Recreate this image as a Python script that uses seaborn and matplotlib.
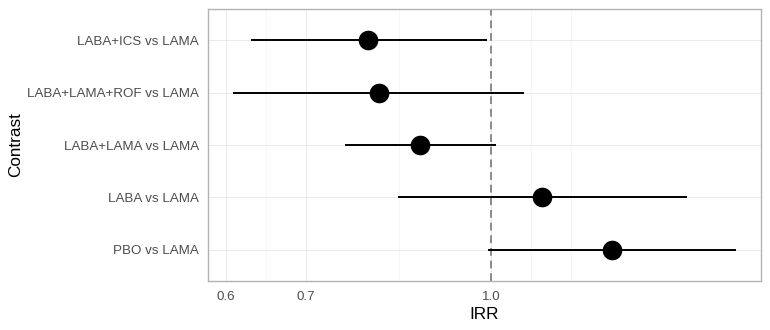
import matplotlib
matplotlib.use("Agg")
import matplotlib.pyplot as plt
import numpy as np
import pandas as pd
import seaborn as sns
from matplotlib.ticker import FixedLocator, FixedFormatter, NullFormatter

# estimates (IRR with 95% CI)
contrast = ["LABA+ICS vs LAMA", "LABA+LAMA+ROF vs LAMA", "LABA+LAMA vs LAMA",
            "LABA vs LAMA", "PBO vs LAMA"]
irr = [0.789, 0.806, 0.872, 1.103, 1.262]
lower = [0.629, 0.608, 0.755, 0.835, 0.994]
upper = [0.992, 1.066, 1.010, 1.458, 1.603]
breaks = [0.6, 0.7, 1.0]

df = pd.DataFrame({"Contrast": contrast, "IRR": irr, "lo": lower, "hi": upper})

sns.set_style("white")
plt.rcParams["font.family"] = ["Liberation Sans", "DejaVu Sans"]

fig, ax = plt.subplots(figsize=(7.7, 3.3), dpi=100)
fig.subplots_adjust(left=0.2701, right=0.9883, top=0.9742, bottom=0.147)

ax.set_xscale("log")

# minor grid like ggplot: midpoints in log space, extended by the first step
lb = np.log10(breaks)
step = lb[1] - lb[0]
ext = np.concatenate([[lb[0] - step], lb, [lb[-1] + step]])
minor = np.concatenate([(ext[:-1] + ext[1:]) / 2, ext])
minor = 10 ** np.setdiff1d(np.round(minor, 6), np.round(lb, 6))

ax.hlines(df["Contrast"], df["lo"], df["hi"], color="black", linewidth=1.4, zorder=3)
sns.scatterplot(data=df, x="IRR", y="Contrast", ax=ax, s=200, color="black",
                edgecolor="black", linewidth=0, zorder=4, legend=False)
ax.axvline(1.0, color="#8a8a8a", linestyle=(0, (4, 2.5)), linewidth=1.4, zorder=2)

# limits with 5% expansion in log space
lo_all, hi_all = np.log10(min(lower)), np.log10(max(upper))
pad = (hi_all - lo_all) * 0.05
ax.set_xlim(10 ** (lo_all - pad), 10 ** (hi_all + pad))
ax.set_ylim(len(contrast) - 1 + 0.6, -0.6)

ax.xaxis.set_major_locator(FixedLocator(breaks))
ax.xaxis.set_major_formatter(FixedFormatter(["%.1f" % b for b in breaks]))
ax.xaxis.set_minor_locator(FixedLocator(minor))
ax.xaxis.set_minor_formatter(NullFormatter())

ax.grid(True, which="major", color="#e6e6e6", linewidth=0.6, zorder=0)
ax.grid(True, which="minor", axis="x", color="#f0f0f0", linewidth=0.4, zorder=0)
ax.set_axisbelow(True)

for sp in ax.spines.values():
    sp.set_color("#b3b3b3")
    sp.set_linewidth(1.0)

ax.tick_params(axis="both", which="major", length=3.5, width=0.8, color="#b3b3b3",
               labelsize=9.6, labelcolor="#4d4d4d", pad=3)
ax.tick_params(axis="x", which="minor", length=0)

ax.set_xlabel("IRR", fontsize=12.3, color="black")
ax.set_ylabel("Contrast", fontsize=12.3, color="black")
ax.xaxis.set_label_coords(0.5, -0.093)
ax.yaxis.set_label_coords(-0.334, 0.5)

fig.savefig("out.png", dpi=100)
